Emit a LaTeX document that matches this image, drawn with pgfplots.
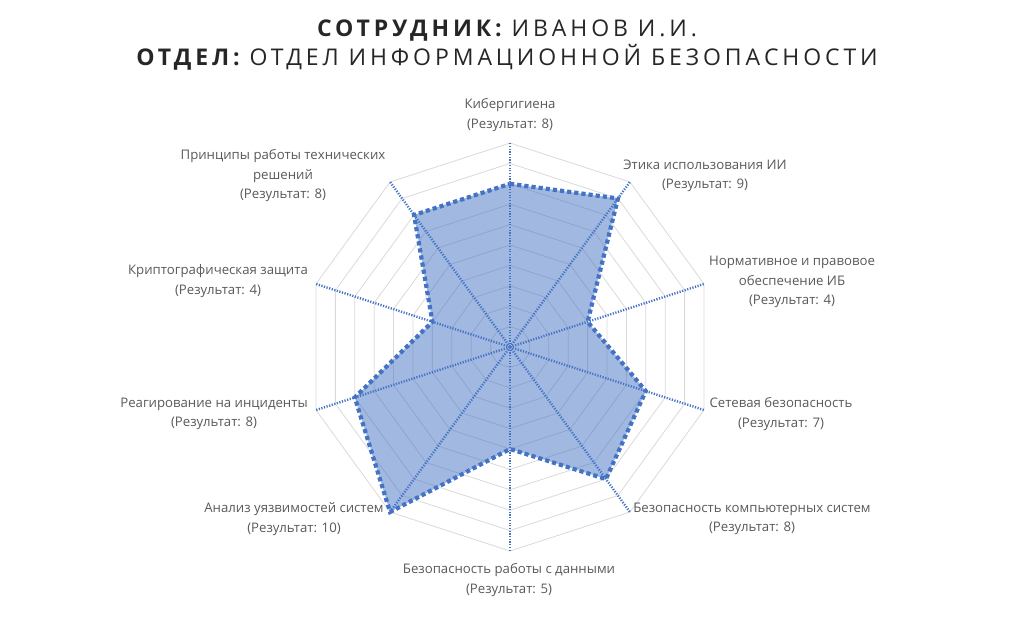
\documentclass[border=0pt]{standalone}
\usepackage{pgfplots}
\pgfplotsset{compat=1.18}
\usepackage{fontspec}
\setmainfont{Open Sans}
\newfontfamily\titlefont[LetterSpace=17]{Open Sans}
\definecolor{ser}{HTML}{4472C4}
\definecolor{lab}{HTML}{595959}
\definecolor{grd}{HTML}{D9D9D9}
\begin{document}
\begin{tikzpicture}[x=1pt,y=1pt]
\path[use as bounding box] (-510,-275) rectangle (514,347);
\begin{axis}[at={(0,0)}, anchor=origin, hide axis, x=20.4pt, y=20.4pt,
  xmin=-10.5, xmax=10.5, ymin=-10.5, ymax=10.5, clip=false]
% grid rings
\pgfplotsinvokeforeach{1,...,10}{
 \addplot[grd, line width=0.8pt, data cs=polar, mark=none] coordinates {(90,#1)(54,#1)(18,#1)(-18,#1)(-54,#1)(-90,#1)(-126,#1)(-162,#1)(162,#1)(126,#1)(90,#1)};
}
% fill of data
\addplot[draw=none, fill=ser, fill opacity=0.5, data cs=polar, mark=none] coordinates {(90,8)(54,9)(18,4)(-18,7)(-54,8)(-90,5)(-126,10)(-162,8)(162,4)(126,8)(90,8)};
% spokes
\pgfplotsinvokeforeach{90,54,18,-18,-54,-90,-126,-162,162,126}{
 \addplot[ser, line width=2.4pt, dash pattern=on 1.2pt off 1.5pt, data cs=polar, mark=none] coordinates {(#1,0.001)(#1,10)};
}
% data outline
\addplot[ser, line width=4.2pt, dash pattern=on 4.2pt off 3pt, line join=miter, data cs=polar, mark=none] coordinates {(90,8)(54,9)(18,4)(-18,7)(-54,8)(-90,5)(-126,10)(-162,8)(162,4)(126,8)(90,8)};
\end{axis}
\begin{scope}[every node/.style={align=center, text=lab, font=\fontsize{13.2}{19.5}\selectfont}]
\node at (0,232) {Кибергигиена\\(Результат: 8)};
\node at (195,171) {Этика использования ИИ\\(Результат: 9)};
\node at (282,65) {Нормативное и правовое\\обеспечение ИБ\\(Результат: 4)};
\node at (271,-67) {Сетевая безопасность\\(Результат: 7)};
\node at (242,-172) {Безопасность компьютерных систем\\(Результат: 8)};
\node at (-1,-233) {Безопасность работы с данными\\(Результат: 5)};
\node at (-216,-172) {Анализ уязвимостей систем\\(Результат: 10)};
\node at (-296,-67) {Реагирование на инциденты\\(Результат: 8)};
\node at (-292,66) {Криптографическая защита\\(Результат: 4)};
\node at (-227,171) {Принципы работы технических\\решений\\(Результат: 8)};
\end{scope}
\node[align=center, text=black!85, font=\titlefont\fontsize{23}{29}\selectfont] at (-3,302) {{\bfseries СОТРУДНИК:} ИВАНОВ И.И.\\{\bfseries ОТДЕЛ:} ОТДЕЛ ИНФОРМАЦИОННОЙ БЕЗОПАСНОСТИ};
\end{tikzpicture}
\end{document}
